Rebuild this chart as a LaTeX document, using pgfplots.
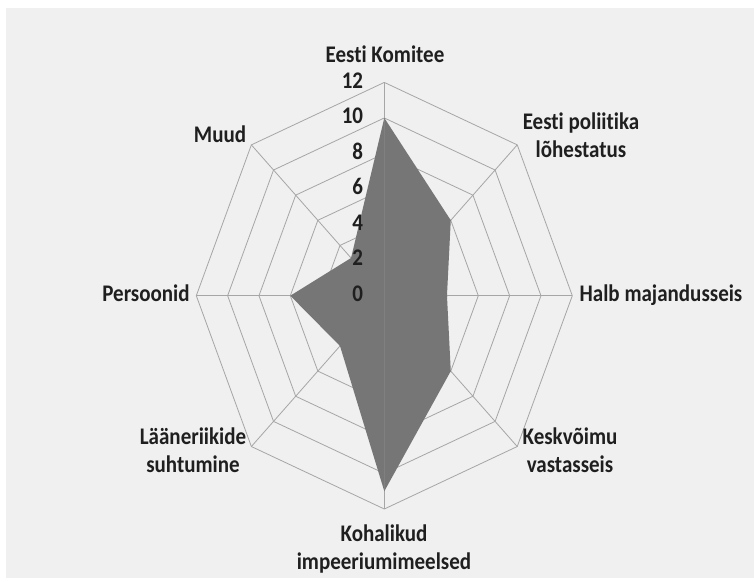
\documentclass[border=0pt]{standalone}
\usepackage{pgfplots}
\pgfplotsset{compat=1.18}
\usepackage{pgfplotstable}
\usepackage{fontspec}
\setmainfont{Carlito}[Ligatures=NoCommon]
\definecolor{bg}{HTML}{F0F0F0}
\definecolor{gridc}{HTML}{A6A6A6}
\definecolor{fillc}{HTML}{767676}
\definecolor{txt}{HTML}{1F1F1F}
\pgfplotstableread{
a r
90 10
45 6
0 4
-45 6
-90 11
-135 4
180 6
135 3
}\radar
\pgfplotstableread{
a d
90 1
45 1
0 1
-45 1
-90 1
-135 1
180 1
135 1
90 1
}\octagon
\newcommand\lbl[1]{\scalebox{1}[1.135]{\fontsize{21}{24.7}\selectfont\bfseries\begin{tabular}{@{}c@{}}#1\end{tabular}}}
\begin{document}
\begin{tikzpicture}[x=1pt,y=1pt]
\fill[white] (0,0) rectangle (754,578);
\fill[bg] (6,0) rectangle (754,570);
\begin{axis}[at={(384.3pt,282.3pt)}, anchor=center, scale only axis,
  width=376pt, height=426.6pt, xmin=-12, xmax=12, ymin=-12, ymax=12,
  hide axis, clip=false]
\pgfplotsinvokeforeach{2,4,6,8,10,12}{
  \addplot[gridc, line width=0.8pt, no marks] table[x expr={#1*cos(\thisrow{a})}, y expr={#1*sin(\thisrow{a})}] {\octagon};
}
\pgfplotsinvokeforeach{90,45,0,-45,-90,-135,180,135}{
  \draw[gridc, line width=0.8pt] (axis cs:0,0) -- (axis cs:{12*cos(#1)},{12*sin(#1)});
}
\addplot[fill=fillc, draw=none, no marks] table[x expr={\thisrow{r}*cos(\thisrow{a})}, y expr={\thisrow{r}*sin(\thisrow{a})}] {\radar};
\draw[fillc!80!gridc, line width=0.8pt] (axis cs:0,-11) -- (axis cs:0,10);
\pgfplotsinvokeforeach{0,2,4,6,8,10,12}{
  \node[anchor=east, inner sep=0pt, xshift=-21pt, text=txt] at (axis cs:0,#1) {\lbl{#1}};
}
\end{axis}
\begin{scope}[text=txt]
\node at (385,521) {\lbl{Eesti Komitee}};
\node at (581,440) {\lbl{Eesti poliitika\\lõhestatus}};
\node at (661,282) {\lbl{Halb majandusseis}};
\node at (570,125) {\lbl{Keskvõimu\\vastasseis}};
\node at (384,28) {\lbl{Kohalikud\\impeeriumimeelsed}};
\node at (193,125) {\lbl{Lääneriikide\\suhtumine}};
\node at (146,282) {\lbl{Persoonid}};
\node at (220,441) {\lbl{Muud}};
\end{scope}
\end{tikzpicture}
\end{document}
